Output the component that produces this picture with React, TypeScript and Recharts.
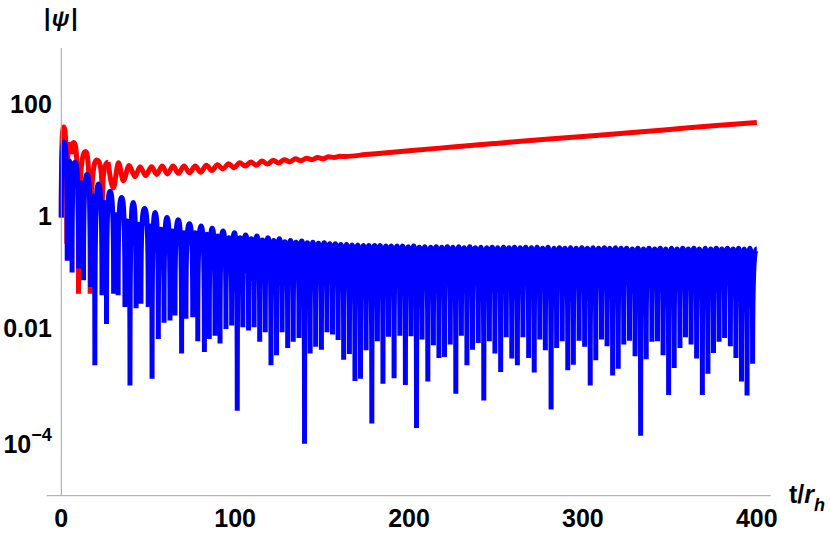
import React from 'react';
import { LineChart, Line, XAxis, YAxis, ReferenceLine } from 'recharts';

// ---- data (y values as log10) ----
const blueStart = [0, -0.03];

const bluePeakT = [
  1.6, 4.6, 7.9, 11.4, 14.8, 18.1, 21.3, 24.7, 28.0, 31.4,
  34.7, 38.0, 41.3, 44.4, 47.9, 51.1, 53.9, 57.4, 60.8, 64.0,
  67.3, 70.5, 73.7, 77.0, 80.4, 83.7, 86.8, 89.9, 93.0, 96.4,
  99.6, 102.8, 106.0, 109.3, 112.5, 115.7, 118.9, 122.2, 125.4, 128.6,
  131.8, 135.0, 138.3, 141.5, 144.7, 147.9, 151.2, 154.4, 157.6, 160.8,
  164.0, 167.3, 170.5, 173.7, 176.9, 180.2, 183.4, 186.6, 189.8, 193.0,
  196.3, 199.5, 202.7, 205.9, 209.1, 212.4, 215.6, 218.8, 222.0, 225.3,
  228.5, 231.7, 234.9, 238.1, 241.4, 244.6, 247.8, 251.0, 254.3, 257.5,
  260.7, 263.9, 267.1, 270.4, 273.6, 276.8, 280.0, 283.3, 286.5, 289.7,
  292.9, 296.1, 299.4, 302.6, 305.8, 309.0, 312.3, 315.5, 318.7, 321.9,
  325.1, 328.4, 331.6, 334.8, 338.0, 341.3, 344.5, 347.7, 350.9, 354.1,
  357.4, 360.6, 363.8, 367.0, 370.3, 373.5, 376.7, 379.9, 383.1, 386.4,
  389.6, 392.8, 396.0, 400.0,
];
const bluePeakLog = [
  1.32, 0.98, 0.96, 0.59, 0.74, 0.36, 0.57, 0.24, 0.44, 0.02,
  0.33, -0.09, 0.24, -0.15, 0.13, -0.18, 0.06, -0.24, -0.03, -0.27,
  -0.07, -0.30, -0.14, -0.30, -0.18, -0.33, -0.22, -0.36, -0.27, -0.39,
  -0.30, -0.39, -0.34, -0.41, -0.36, -0.43, -0.39, -0.44, -0.41, -0.46,
  -0.44, -0.47, -0.45, -0.48, -0.47, -0.49, -0.48, -0.50, -0.50, -0.51,
  -0.51, -0.52, -0.52, -0.53, -0.53, -0.53, -0.53, -0.54, -0.54, -0.54,
  -0.54, -0.55, -0.54, -0.56, -0.55, -0.56, -0.55, -0.56, -0.55, -0.56,
  -0.55, -0.57, -0.55, -0.57, -0.56, -0.57, -0.56, -0.57, -0.56, -0.57,
  -0.56, -0.57, -0.56, -0.57, -0.56, -0.58, -0.56, -0.58, -0.57, -0.58,
  -0.57, -0.58, -0.57, -0.58, -0.57, -0.58, -0.57, -0.58, -0.57, -0.58,
  -0.58, -0.59, -0.58, -0.59, -0.58, -0.59, -0.58, -0.59, -0.58, -0.59,
  -0.58, -0.59, -0.58, -0.59, -0.58, -0.59, -0.58, -0.59, -0.58, -0.59,
  -0.58, -0.59, -0.58, -0.59,
];
const blueDipT = [
  3.4, 6.2, 10.0, 12.8, 16.9, 19.3, 23.4, 26.0, 30.1, 32.7,
  36.6, 39.5, 43.0, 45.8, 50.0, 52.2, 55.8, 59.1, 62.5, 65.4,
  69.2, 71.7, 75.6, 78.5, 82.3, 85.1, 88.4, 91.3, 94.7,
  98.0, 101.2, 104.4, 107.7, 110.9, 114.1, 117.3, 120.6, 123.8, 127.0,
  130.2, 133.4, 136.7, 139.9, 143.1, 146.3, 149.6, 152.8, 156.0, 159.2,
  162.4, 165.7, 168.9, 172.1, 175.3, 178.6, 181.8, 185.0, 188.2, 191.4,
  194.7, 197.9, 201.1, 204.3, 207.5, 210.8, 214.0, 217.2, 220.4, 223.7,
  226.9, 230.1, 233.3, 236.5, 239.8, 243.0, 246.2, 249.4, 252.7, 255.9,
  259.1, 262.3, 265.5, 268.8, 272.0, 275.2, 278.4, 281.7, 284.9, 288.1,
  291.3, 294.5, 297.8, 301.0, 304.2, 307.4, 310.7, 313.9, 317.1, 320.3,
  323.5, 326.8, 330.0, 333.2, 336.4, 339.7, 342.9, 346.1, 349.3, 352.5,
  355.8, 359.0, 362.2, 365.4, 368.7, 371.9, 375.1, 378.3, 381.5, 384.8,
  388.0, 391.2, 394.4, 397.6,
];
const blueDipLog = [
  -0.80, -1.01, -0.94, -1.15, -1.27, -2.67, -1.42, -1.93, -1.39, -1.42,
  -1.63, -3.03, -1.65, -1.57, -1.63, -2.91, -2.20, -1.91, -1.87, -1.78,
  -2.46, -1.84, -1.81, -2.24, -2.43, -2.20, -2.14, -2.28, -2.02,
  -1.96, -3.48, -1.99, -2.05, -1.99, -2.25, -2.08, -2.67, -2.49, -2.08,
  -2.36, -2.25, -2.18, -4.07, -2.46, -2.34, -2.39, -2.08, -2.12, -2.22,
  -2.57, -2.47, -2.95, -2.91, -2.40, -3.71, -2.24, -3.00, -2.16, -2.90,
  -2.14, -3.02,
  -2.15, -3.79, -2.21, -2.96, -2.31, -2.54, -2.52, -2.30, -3.18, -2.14,
  -2.67, -2.39, -2.27, -3.30, -2.24, -2.46, -2.79, -2.17, -2.55, -2.67,
  -2.17, -2.54, -2.80, -2.21, -2.40, -3.46, -2.36, -2.24, -2.76, -2.66,
  -2.23,
  -2.34, -3.03, -2.58, -2.21, -2.33, -2.85, -2.73, -2.30, -2.23, -2.51,
  -3.93, -2.56, -2.25, -2.24, -2.49, -3.20, -2.72, -2.36, -2.17, -2.30,
  -2.55, -3.20, -2.82, -2.45, -2.25, -2.18, -2.33, -2.54, -2.96, -3.21,
  -2.64,
];

const redEarlyT = [0, 1.4, 3.2, 4.8, 6.0, 7.3, 9.9, 14.0, 16.6, 20.5, 23.6, 26.9];
const redEarlyLog = [-0.03, 1.59, -0.5, 1.28, 1.1, 1.31, -1.39, 1.15, -1.39, 1.0, 0.1, 0.96];

const redLateT = [
  26.9, 29.9, 32.9, 35.7, 39.0, 42.4, 45.3, 48.5, 51.9, 54.9,
  58.0, 61.0, 64.3, 67.3, 70.6, 73.7, 77.0, 80.2, 83.4, 86.6,
  89.8, 93.0, 96.2, 99.4, 102.6, 105.8, 109.0, 112.2, 115.4, 118.6,
  121.8, 125.0, 128.2, 131.4, 134.6, 137.8, 141.0, 144.2, 147.4, 150.6,
  153.8, 157.0, 160.2, 163.4, 175, 200, 225, 250, 275, 300,
  325, 350, 375, 400,
];
const redLateLog = [
  0.96, 0.5, 0.95, 0.63, 0.90, 0.70, 0.88, 0.72, 0.88, 0.74,
  0.89, 0.75, 0.89, 0.76, 0.89, 0.77, 0.89, 0.78, 0.905, 0.81,
  0.915, 0.84, 0.93, 0.86, 0.95, 0.89, 0.965, 0.905, 0.98, 0.925,
  0.995, 0.945, 1.005, 0.965, 1.02, 0.985, 1.03, 1.005, 1.045, 1.02,
  1.055, 1.045, 1.064, 1.062, 1.095, 1.165, 1.23, 1.295, 1.36, 1.42,
  1.48, 1.545, 1.61, 1.67,
];

const xMajorTicks = [0, 100, 200, 300, 400];
const xMinorTicks = [20, 40, 60, 80, 120, 140, 160, 180, 220, 240, 260, 280, 320, 340, 360, 380];
const yMajorTicks = [1e-4, 1e-2, 1, 100];
const yMinorTicks = [1e-3, 0.1, 10, 1000];

// ---- tables ----
const toPts = (ts: number[], ls: number[]) => ts.map((t, i) => ({ t, v: Math.pow(10, ls[i]) }));

const blueData: { t: number; v: number }[] = [{ t: blueStart[0], v: Math.pow(10, blueStart[1]) }];
for (let i = 0; i < bluePeakT.length; i++) {
  blueData.push({ t: bluePeakT[i], v: Math.pow(10, bluePeakLog[i]) });
  if (i < blueDipT.length) blueData.push({ t: blueDipT[i], v: Math.pow(10, blueDipLog[i]) });
}
const redEarly = toPts(redEarlyT, redEarlyLog);
const redLate = toPts(redLateT, redLateLog);

// curve: rounded tops, near-vertical plunges into the zeros (as |psi| on a log axis)
const lobeCurve: any = (context: any) => {
  let pts: number[][] = [];
  return {
    areaStart() {},
    areaEnd() {},
    lineStart() {
      pts = [];
    },
    point(x: number, y: number) {
      pts.push([+x, +y]);
    },
    lineEnd() {
      if (!pts.length) return;
      context.moveTo(pts[0][0], pts[0][1]);
      for (let i = 1; i < pts.length; i++) {
        const [x0, y0] = pts[i - 1];
        const [x1, y1] = pts[i];
        const dx = x1 - x0;
        const dy = y1 - y0;
        if (Math.abs(dy) < 1) context.lineTo(x1, y1);
        else if (dy > 0) context.bezierCurveTo(x0 + 0.5 * dx, y0, x1, y0 + 0.1 * dy, x1, y1);
        else context.bezierCurveTo(x0, y1 - 0.1 * dy, x1 - 0.5 * dx, y1, x1, y1);
      }
    },
  };
};

const FONT = '"Liberation Sans", Arial, Helvetica, sans-serif';
const AXIS = '#a3a3a3';
const FS = 25;

const XTick = (props: any) => {
  const { x, y, payload } = props;
  return (
    <text x={x} y={y} dy={17.5} textAnchor="middle" fontFamily={FONT} fontWeight="bold" fontSize={FS} fill="#000">
      {payload.value}
    </text>
  );
};

const YTick = (props: any) => {
  const { x, y, payload } = props;
  const v = payload.value;
  if (v < 1e-3) {
    return (
      <text x={x} y={y} dy={13.5} textAnchor="end" fontFamily={FONT} fontWeight="bold" fontSize={FS} fill="#000">
        10
        <tspan dy={-12.5} fontSize={18}>
          −4
        </tspan>
      </text>
    );
  }
  const label = v >= 100 ? '100' : v >= 1 ? '1' : '0.01';
  return (
    <text x={x} y={y} dy={9} textAnchor="end" fontFamily={FONT} fontWeight="bold" fontSize={FS} fill="#000">
      {label}
    </text>
  );
};

const Empty = () => <g />;

export default function App() {
  return (
    <div style={{ position: 'absolute', left: 0, top: 0, width: 830, height: 535, background: '#fff' }}>
      <LineChart width={830} height={535} margin={{ top: 48, right: 59.3, bottom: 9.3, left: 1.3 }}>
        <XAxis
          xAxisId="x"
          dataKey="t"
          type="number"
          domain={[0, 408]}
          ticks={xMajorTicks}
          height={30}
          tickLine={false}
          tickSize={0}
          tickMargin={14}
          axisLine={{ stroke: AXIS, strokeWidth: 1 }}
          tick={<XTick />}
          interval={0}
        />
        <XAxis
          xAxisId="xM"
          type="number"
          domain={[0, 408]}
          ticks={xMajorTicks}
          height={0}
          mirror
          axisLine={false}
          tickLine={{ stroke: AXIS }}
          tickSize={8}
          tick={<Empty />}
          interval={0}
        />
        <XAxis
          xAxisId="xm"
          type="number"
          domain={[0, 408]}
          ticks={xMinorTicks}
          height={0}
          mirror
          axisLine={false}
          tickLine={{ stroke: AXIS }}
          tickSize={5}
          tick={<Empty />}
          interval={0}
        />
        <YAxis
          yAxisId="y"
          type="number"
          scale="log"
          domain={[1e-5, 1000]}
          ticks={yMajorTicks}
          width={60}
          tickLine={false}
          tickSize={0}
          tickMargin={9.5}
          axisLine={{ stroke: AXIS, strokeWidth: 1 }}
          tick={<YTick />}
          interval={0}
        />
        <YAxis
          yAxisId="yM"
          type="number"
          scale="log"
          domain={[1e-5, 1000]}
          ticks={yMajorTicks}
          width={0}
          mirror
          axisLine={false}
          tickLine={{ stroke: AXIS }}
          tickSize={8}
          tick={<Empty />}
          interval={0}
        />
        <YAxis
          yAxisId="ym"
          type="number"
          scale="log"
          domain={[1e-5, 1000]}
          ticks={yMinorTicks}
          width={0}
          mirror
          axisLine={false}
          tickLine={{ stroke: AXIS }}
          tickSize={5}
          tick={<Empty />}
          interval={0}
        />
        <ReferenceLine
          xAxisId="x"
          yAxisId="y"
          segment={[
            { x: -8.4, y: 1e-5 },
            { x: 0, y: 1e-5 },
          ]}
          ifOverflow="visible"
          stroke={AXIS}
          strokeWidth={1}
        />
        <Line
          xAxisId="x"
          yAxisId="y"
          data={redEarly}
          dataKey="v"
          type={lobeCurve}
          stroke="#ff0000"
          strokeWidth={5}
          dot={false}
          activeDot={false}
          isAnimationActive={false}
        />
        <Line
          xAxisId="x"
          yAxisId="y"
          data={redLate}
          dataKey="v"
          type="monotone"
          stroke="#ff0000"
          strokeWidth={5}
          dot={false}
          activeDot={false}
          isAnimationActive={false}
        />
        <Line
          xAxisId="x"
          yAxisId="y"
          data={blueData}
          dataKey="v"
          type={lobeCurve}
          stroke="#0000ff"
          strokeWidth={5}
          dot={false}
          activeDot={false}
          isAnimationActive={false}
        />
      </LineChart>
      <svg
        width={830}
        height={535}
        style={{ position: 'absolute', left: 0, top: 0, pointerEvents: 'none' }}
      >
        <text x={61.5} y={26} textAnchor="middle" fontFamily={FONT} fontWeight="bold" fontSize={23} letterSpacing={1.5} fill="#000">
          |<tspan fontStyle="italic">ψ</tspan>|
        </text>
        <text x={789} y={503} fontFamily={FONT} fontWeight="bold" fontSize={FS} fill="#000">
          t/<tspan fontStyle="italic">r</tspan>
          <tspan fontStyle="italic" fontSize={18} dy={8}>
            h
          </tspan>
        </text>
      </svg>
    </div>
  );
}
